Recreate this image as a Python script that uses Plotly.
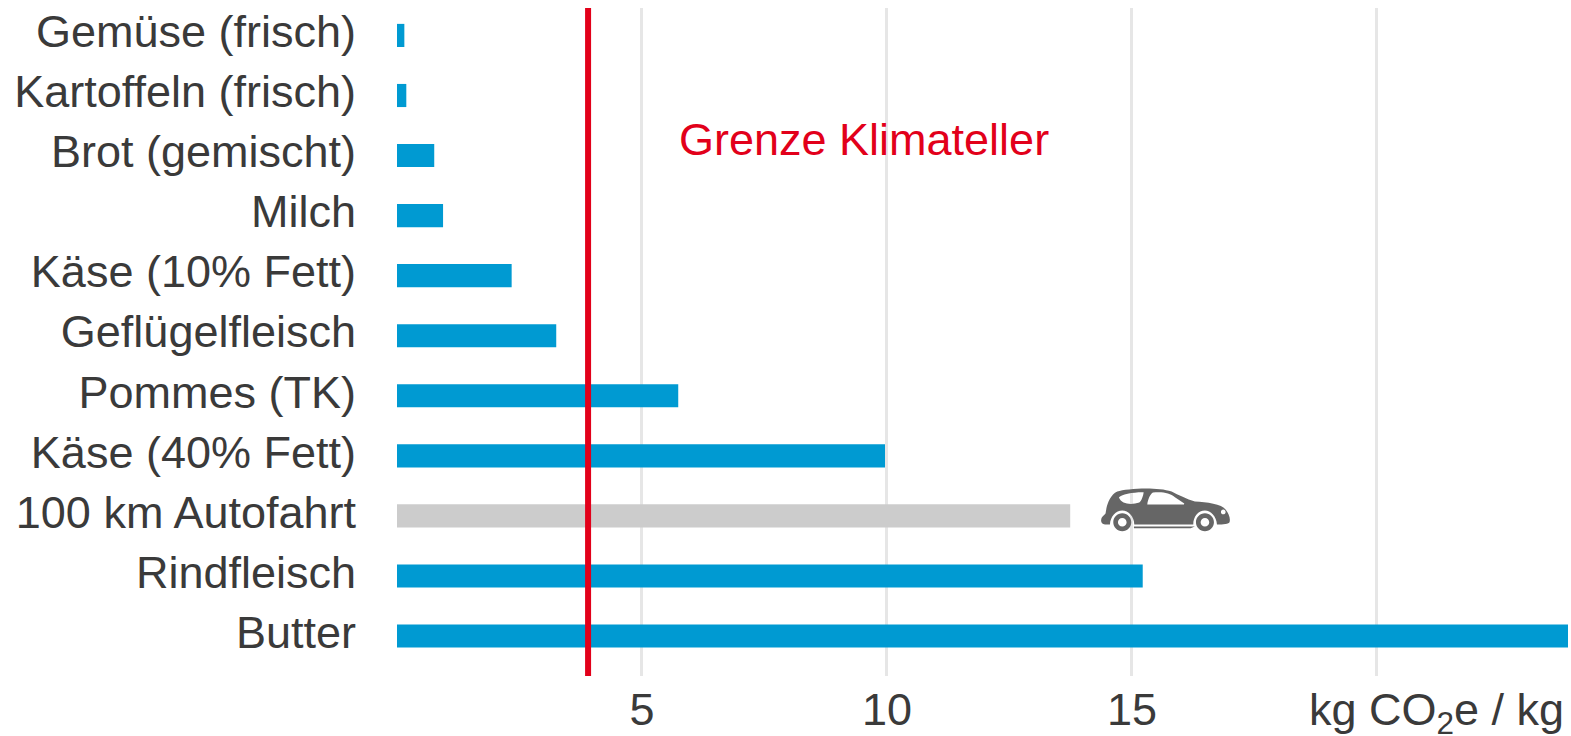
import plotly.graph_objects as go

categories = ["Gemüse (frisch)", "Kartoffeln (frisch)", "Brot (gemischt)", "Milch", "Käse (10% Fett)",
              "Geflügelfleisch", "Pommes (TK)", "Käse (40% Fett)", "100 km Autofahrt", "Rindfleisch", "Butter"]
values = [0.15, 0.19, 0.76, 0.94, 2.34, 3.25, 5.74, 9.96, 13.74, 15.22, 23.9]
bar_colors = ["#009ad2"] * 8 + ["#cccccc"] + ["#009ad2"] * 2
tick_values = [5, 10, 15, 20]
tick_labels = ["5", "10", "15", ""]
limit_value = 3.9
limit_label = "Grenze Klimateller"
unit_label = "kg CO<sub>2</sub>e / kg"

TEXT = "#3a3a3a"
FONT = "Liberation Sans, Arial, sans-serif"
SIZE = 45

fig = go.Figure(go.Bar(y=categories, x=values, orientation="h", marker=dict(color=bar_colors, line_width=0),
                       width=0.385, hoverinfo="skip"))

# car icon outline, drawn in pixels around an anchor on the chart's scales
S = 1 / 3
AX, AY = 216, 168
def seg(cmd, *pts):
    return cmd + " ".join(f"{(x - AX) * S:.2f},{(AY - y) * S:.2f}" for x, y in pts)
def circle(cx, cy, r):
    k = 0.5523 * r
    return " ".join([
        seg("M", (cx - r, cy)),
        seg("C", (cx - r, cy - k), (cx - k, cy - r), (cx, cy - r)),
        seg("C", (cx + k, cy - r), (cx + r, cy - k), (cx + r, cy)),
        seg("C", (cx + r, cy + k), (cx + k, cy + r), (cx, cy + r)),
        seg("C", (cx - k, cy + r), (cx - r, cy + k), (cx - r, cy)),
        "Z"])
body = " ".join([
    seg("M", (124, 178)),
    seg("C", (126, 168), (134, 166), (137, 160)),
    seg("C", (140, 135), (150, 105), (172, 95)),
    seg("C", (200, 86), (290, 80), (335, 95)),
    seg("C", (355, 105), (380, 118), (405, 125)),
    seg("C", (440, 127), (485, 132), (498, 150)),
    seg("C", (506, 160), (512, 175), (509, 186)),
    seg("C", (507, 192), (490, 194), (471, 194)),
    seg("C", (470, 170), (452, 152), (435, 152)),
    seg("C", (415, 152), (400, 170), (400, 194)),
    seg("L", (223, 194)),
    seg("C", (223, 170), (205, 152), (187, 152)),
    seg("C", (168, 152), (151, 170), (150, 194)),
    seg("L", (135, 194)),
    seg("C", (126, 193), (122, 186), (124, 178)),
    "Z",
    seg("M", (177, 113)),
    seg("C", (182, 103), (225, 96), (251, 97)),
    seg("C", (250, 108), (245, 122), (238, 128)),
    seg("C", (215, 136), (185, 134), (177, 113)),
    "Z",
    seg("M", (262, 134)),
    seg("C", (264, 118), (270, 104), (279, 98)),
    seg("C", (310, 95), (330, 100), (345, 112)),
    seg("L", (373, 131)),
    seg("L", (372, 134)),
    "Z",
    circle(490, 156, 7),
])
wheels = " ".join([circle(187, 187, 27), circle(187, 187, 13), circle(435, 187, 27), circle(435, 187, 13)])
sill = " ".join([seg("M", (222, 200)), seg("L", (405, 200)), seg("L", (392, 205)), seg("L", (222, 205)), "Z"])

shapes = [dict(type="line", xref="x", yref="paper", x0=limit_value, x1=limit_value, y0=0, y1=1,
               line=dict(color="#e2001a", width=6), layer="above")]
for p in (body, wheels, sill):
    shapes.append(dict(type="path", path=p, xsizemode="pixel", ysizemode="pixel", xref="x", yref="y",
                       xanchor=15, yanchor="100 km Autofahrt", fillcolor="#666666", fillrule="evenodd",
                       line_width=0, layer="above"))

fig.update_layout(
    width=1571, height=736, margin=dict(l=397, r=3, t=8, b=60),
    paper_bgcolor="white", plot_bgcolor="white", showlegend=False,
    font=dict(family=FONT, color=TEXT),
    xaxis=dict(range=[0, 23.9], tickmode="array", tickvals=tick_values, ticktext=tick_labels, automargin=False,
               showgrid=True, gridcolor="#e6e6e6", gridwidth=3, zeroline=False, showline=False,
               ticks="", ticklabelstandoff=3, tickfont=dict(size=SIZE, family=FONT, color=TEXT)),
    yaxis=dict(categoryorder="array", categoryarray=categories, range=[10.666, -0.457], showgrid=False, automargin=False,
               zeroline=False, showline=False, ticks="outside", ticklen=31, tickcolor="rgba(0,0,0,0)",
               ticklabelshift=4, tickfont=dict(size=SIZE, family=FONT, color=TEXT)),
    shapes=shapes,
    annotations=[
        dict(xref="paper", yref="paper", x=1, y=0, yshift=-36, xanchor="right", yanchor="middle", showarrow=False,
             text=unit_label, font=dict(size=SIZE, family=FONT, color=TEXT), xshift=-2),
        dict(x=(677 + 1047) / 2 * 1.002 / 49 - 397 / 49, xref="x", y=2, yref="y", yshift=16, text=limit_label,
             showarrow=False, font=dict(size=SIZE, color="#e2001a", family=FONT)),
    ],
)

fig.write_html("out.html", config=dict(displayModeBar=False),
               post_script="document.body.style.margin='0';document.body.style.overflow='hidden';")
